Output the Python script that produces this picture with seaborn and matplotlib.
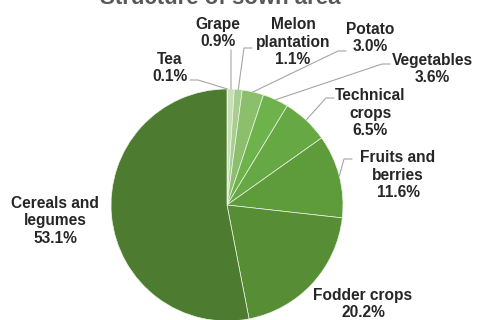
import matplotlib
matplotlib.use('Agg')
import matplotlib.pyplot as plt
import seaborn as sns
import numpy as np

# dados
culturas = ['Tea', 'Grape', 'Melon\nplantation', 'Potato', 'Vegetables',
            'Technical\ncrops', 'Fruits and\nberries', 'Fodder crops', 'Cereals and\nlegumes']
valores = [0.1, 0.9, 1.1, 3.0, 3.6, 6.5, 11.6, 20.2, 53.1]
cores = ['#e3efda', '#c6dfb6', '#a7cd91', '#8cbf6c', '#6db24a',
         '#66a843', '#5d9b3b', '#568d35', '#4d7b2f']

# posicao dos rotulos (pixels da figura)
pos_rotulos = [(170, 68), (218, 33), (293, 42), (370, 38), (432, 69),
               (370, 113), (398, 175), (363, 304), (55, 221)]
# pontos de ancoragem das linhas (pixels) - None = sem linha
ancoras = [(190, 80), (231, 50), (252, 48), (346, 51), (390, 64),
           (334, 98), (352, 159), None, None]

sns.set_style('white')
plt.rcParams['font.family'] = ['Liberation Sans', 'DejaVu Sans']

W, H = 478, 320
cx, cy, r = 227, 205, 116
fig = plt.figure(figsize=(W / 100, H / 100), dpi=100)
ax = fig.add_axes([(cx - r) / W, (H - cy - r) / H, 2 * r / W, 2 * r / H])

wedges, _ = ax.pie(valores, colors=cores, startangle=90, counterclock=False,
                   radius=1, wedgeprops=dict(edgecolor='#eef5e8', linewidth=0.5))
for w in wedges:
    w.set_clip_on(False)
ax.set_xlim(-1, 1)
ax.set_ylim(-1, 1)
ax.set_aspect('equal')
ax.axis('off')


def px2data(px, py):
    return (px - cx) / r, (cy - py) / r


# angulos medios das fatias
acum = np.cumsum([0] + valores)
total = acum[-1]
for i, (nome, v) in enumerate(zip(culturas, valores)):
    lx, ly = px2data(*pos_rotulos[i])
    ax.text(lx, ly, f'{nome}\n{v:.1f}%', ha='center', va='center',
            fontsize=11.2, fontweight='bold', color='#262626',
            linespacing=1.17, clip_on=False)
    if ancoras[i] is not None:
        ang = np.deg2rad(90 - 360 * (acum[i] + v / 2) / total)
        ex, ey = np.cos(ang), np.sin(ang)
        ax_, ay_ = px2data(*ancoras[i])
        if i == 1:
            xs, ys = [ax_, ex], [ay_, ey]
        else:
            dx = 8 / r if ax_ > ex else -8 / r
            xs = [ax_, ax_ - dx, ex]
            ys = [ay_, ay_, ey]
        ax.plot(xs, ys, color='#a6a6a6', lw=0.8, clip_on=False)

# titulo cortado no topo, como na imagem original
fig.text(220 / W, 1 - 4 / H, 'Structure of sown area', ha='center', va='baseline',
         fontsize=16, fontweight='bold', color='#595959')

fig.savefig('out.png', dpi=100)
